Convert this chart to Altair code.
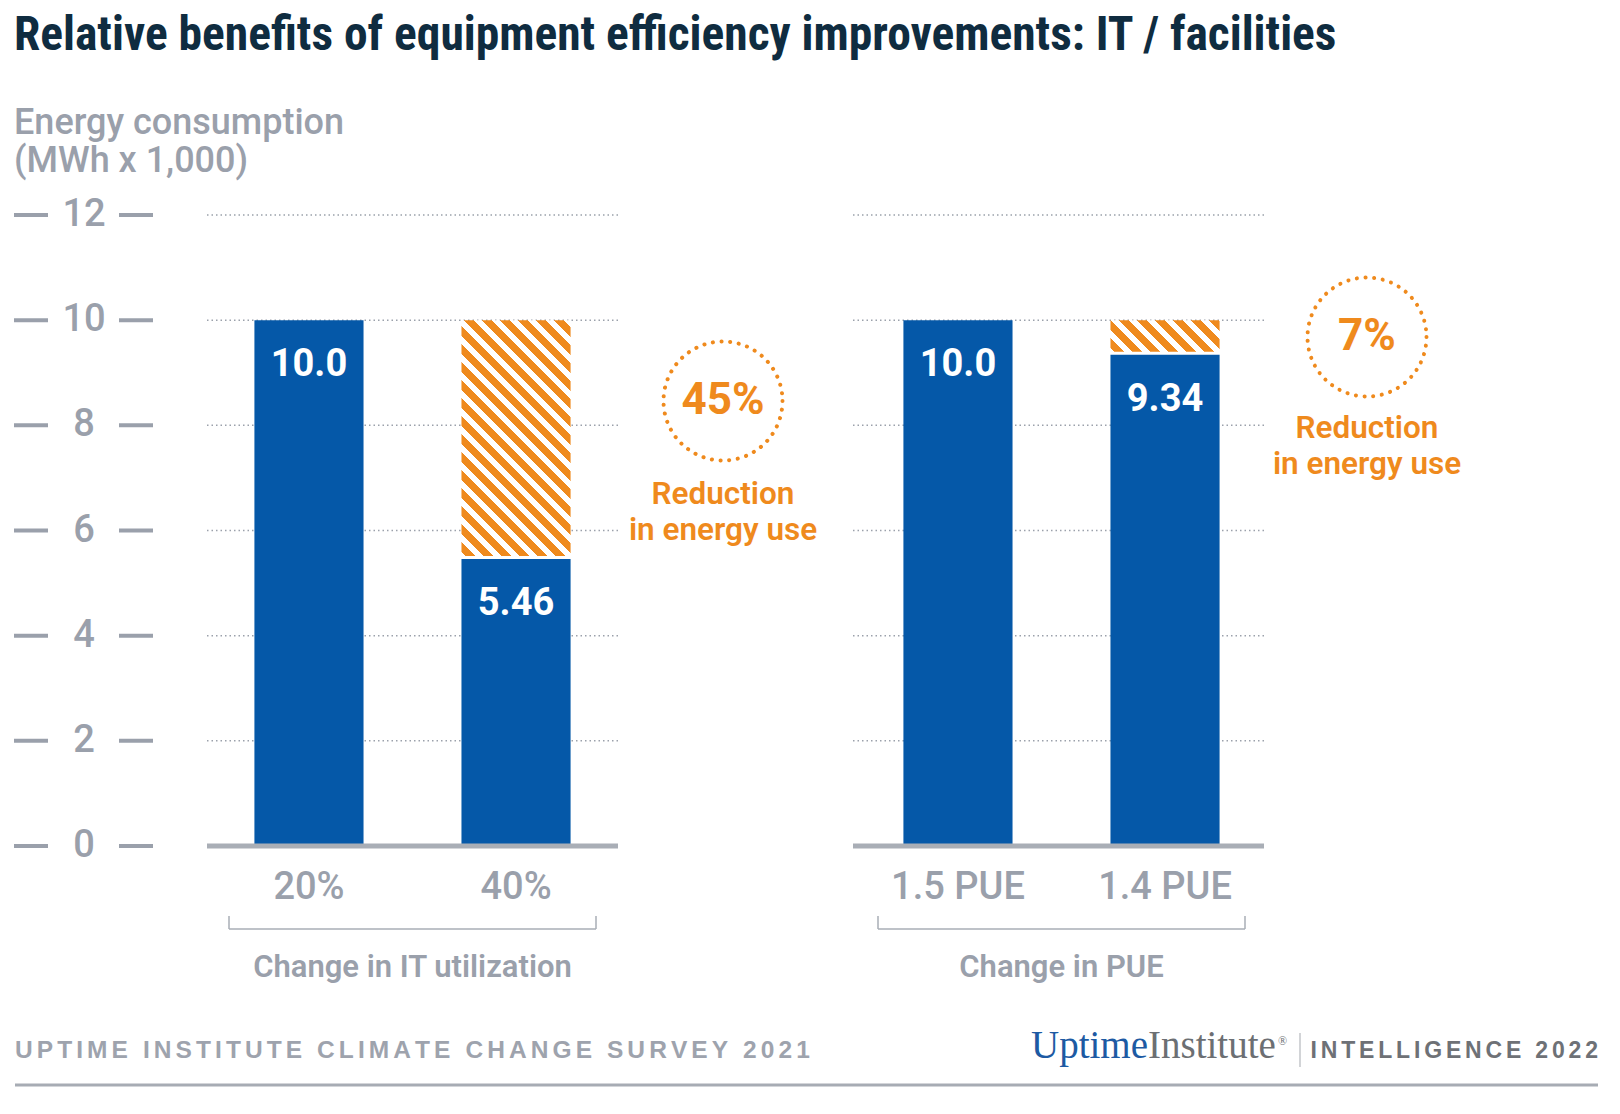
import altair as alt
import pandas as pd

# ---------------- data ----------------
TITLE = "Relative benefits of equipment efficiency improvements: IT / facilities"
Y_TITLE = ["Energy consumption", "(MWh x 1,000)"]
GROUPS = ["Change in IT utilization", "Change in PUE"]
CATEGORIES = [["20%", "40%"], ["1.5 PUE", "1.4 PUE"]]
BEFORE = [[10.0, 10.0], [10.0, 10.0]]
AFTER = [[10.0, 5.46], [10.0, 9.34]]
BAR_LABELS = [["10.0", "5.46"], ["10.0", "9.34"]]
REDUCTION = ["45%", "7%"]
REDUCTION_TEXT = ["Reduction", "in energy use"]
Y_TICKS = [0, 2, 4, 6, 8, 10, 12]
SOURCE = "UPTIME INSTITUTE CLIMATE CHANGE SURVEY 2021"
BRAND = ["Uptime", "Institute", "\u00ae"]
EDITION = "INTELLIGENCE 2022"

# ---------------- style ----------------
BLUE = "#0558a8"
ORANGE = "#ef8a1d"
GRAY = "#9aa0ab"
AXIS_GRAY = "#a9aeb6"
GRID = "#9ba1ab"
NAVY = "#0f2c40"
FONT = "Roboto, Liberation Sans, sans-serif"
NARROW = "Liberation Sans Narrow, Roboto Condensed, DejaVu Sans Condensed, sans-serif"
SANS = "Liberation Sans, Arial, sans-serif"
SERIF = "Liberation Serif, serif"

W, H = 411, 631
SPACING = 238
YMAX = 12
PX = H / YMAX
P_INNER, P_OUTER = 0.473, 0.229
STEP = W / (2 - P_INNER + 2 * P_OUTER)
BAR_W = STEP * (1 - P_INNER)
GAP = 3
CIRCLE_X = [516, 511]
CIRCLE_Y = [186, 122]
RED_Y = [[280, 316], [214, 250]]


def spaced(s, sep="\u2006"):
    return sep.join(list(s))


def stripes(w, h, period=18.0, frac=0.55, phase=4.0):
    span = w + h

    def col(p):
        m = (p - phase) % period
        return ORANGE if m < frac * period else "#ffffff"

    bounds = []
    k = -1
    while True:
        a = phase + k * period
        if a > span:
            break
        for b in (a, a + frac * period):
            if 0 < b < span:
                bounds.append(b)
        k += 1
    bounds.sort()
    stops = [{"offset": 0, "color": col(0)}]
    for b in bounds:
        t = round(b / span, 5)
        stops.append({"offset": t, "color": col(b - 1e-6)})
        stops.append({"offset": t, "color": col(b + 1e-6)})
    stops.append({"offset": 1, "color": col(span)})
    lam = span / (w * w + h * h)
    return alt.LinearGradient(
        gradient="linear", x1=0, y1=1, x2=lam * w, y2=1 - lam * h, stops=stops
    )


def text_layer(text, x, y, size, color, weight="normal", align="left",
               baseline="middle", font=FONT):
    return alt.Chart(pd.DataFrame({"t": [text]})).mark_text(
        align=align, baseline=baseline, fontSize=size, font=font,
        fontWeight=weight, color=color
    ).encode(x=alt.value(x), y=alt.value(y), text="t:N")


def rule_layer(x, x2, y, y2, color, width):
    return alt.Chart(pd.DataFrame({"r": [0]})).mark_rule(
        color=color, strokeWidth=width
    ).encode(x=alt.value(x), x2=alt.value(x2), y=alt.value(y), y2=alt.value(y2))


def panel(i):
    df = pd.DataFrame({
        "cat": CATEGORIES[i], "value": AFTER[i],
        "before": BEFORE[i], "label": BAR_LABELS[i],
    })
    x = alt.X(
        "cat:N", sort=CATEGORIES[i], title=None,
        scale=alt.Scale(paddingInner=P_INNER, paddingOuter=P_OUTER),
        axis=alt.Axis(
            labelFontSize=38, labelFont=FONT, labelFontWeight=500,
            labelColor=GRAY, labelPadding=41, labelBaseline="middle",
            labelAngle=0, ticks=False, tickSize=0, domain=False, grid=False,
        ),
    )
    yscale = alt.Scale(domain=[0, YMAX], nice=False)
    y = alt.Y("value:Q", scale=yscale, title=None, axis=None)
    layers = []

    # dotted gridlines
    gx0 = 0 if i == 0 else -3
    grid_df = pd.DataFrame({"tick": [t for t in Y_TICKS if t > 0]})
    layers.append(
        alt.Chart(grid_df).mark_rule(
            color=GRID, strokeWidth=1.5, strokeDash=[1.5, 3]
        ).encode(y=alt.Y("tick:Q", scale=yscale, axis=None),
                 x=alt.value(gx0), x2=alt.value(gx0 + W))
    )

    layers.append(alt.Chart(df).mark_bar(color=BLUE).encode(x=x, y=y))

    for _, r in df[df["value"] < df["before"]].iterrows():
        h = (r["before"] - r["value"]) * PX - GAP
        layers.append(
            alt.Chart(pd.DataFrame([r.to_dict()])).mark_bar(
                fill=stripes(BAR_W, h), y2Offset=-GAP
            ).encode(x=x, y=alt.Y("before:Q", scale=yscale, axis=None),
                     y2="value:Q")
        )

    # baseline
    layers.append(
        alt.Chart(pd.DataFrame({"tick": [0]})).mark_rule(
            color=AXIS_GRAY, strokeWidth=5
        ).encode(y=alt.Y("tick:Q", scale=yscale, axis=None),
                 x=alt.value(gx0), x2=alt.value(gx0 + W))
    )

    layers.append(
        alt.Chart(df).mark_text(
            dy=45, baseline="middle", color="white", fontSize=38,
            font=FONT, fontWeight="bold"
        ).encode(x=x, y=alt.Y("value:Q", scale=yscale, axis=None), text="label:N")
    )

    # bracket + group label
    bx1, bx2, by = W / 2 - 183.5, W / 2 + 183.5, 714
    layers.append(rule_layer(bx1, bx2, by, by, AXIS_GRAY, 1.5))
    layers.append(rule_layer(bx1, bx1, by - 13, by, AXIS_GRAY, 1.5))
    layers.append(rule_layer(bx2, bx2, by - 13, by, AXIS_GRAY, 1.5))
    layers.append(text_layer(GROUPS[i], W / 2, 753, 31, GRAY, weight=600,
                             align="center"))

    # reduction annotation
    cx, cy = CIRCLE_X[i], CIRCLE_Y[i]
    layers.append(
        alt.Chart(pd.DataFrame({"r": [0]})).mark_point(
            shape="circle", size=119 * 119, filled=False, color=ORANGE,
            strokeWidth=4, strokeDash=[0.1, 8.6], strokeCap="round", opacity=1
        ).encode(x=alt.value(cx), y=alt.value(cy))
    )
    layers.append(text_layer(REDUCTION[i], cx, cy, 44, ORANGE, weight="bold",
                             align="center"))
    for txt, yy in zip(REDUCTION_TEXT, RED_Y[i]):
        layers.append(text_layer(txt, cx, yy, 31.5, ORANGE, weight=600,
                                 align="center"))

    if i == 0:
        tick_df = pd.DataFrame({"tick": Y_TICKS})
        ty = alt.Y("tick:Q", scale=yscale, axis=None)
        for xa, xb in ((-193, -159), (-88, -54)):
            layers.append(
                alt.Chart(tick_df).mark_rule(color=GRAY, strokeWidth=4).encode(
                    y=ty, x=alt.value(xa), x2=alt.value(xb)
                )
            )
        layers.append(
            alt.Chart(tick_df).mark_text(
                align="center", baseline="middle", fontSize=38, font=FONT,
                fontWeight=500, color=GRAY
            ).encode(y=ty, x=alt.value(-123), text="tick:Q")
        )
        layers.append(text_layer(TITLE, -193, -179, 47.5, NAVY, weight="bold",
                                 font=NARROW))
        layers.append(text_layer(Y_TITLE[0], -193, -92, 36, GRAY, weight=500))
        layers.append(text_layer(Y_TITLE[1], -193, -54, 36, GRAY, weight=500))
        # footer
        layers.append(text_layer(spaced(SOURCE), -192, 843, 24.5,
                                 "#9ea3ad", weight="bold", baseline="alphabetic",
                                 font=SANS))
        layers.append(text_layer(BRAND[0], 941, 843, 39, "#1d5aa3",
                                 align="right", baseline="alphabetic",
                                 font=SERIF))
        layers.append(text_layer(BRAND[1], 941, 843, 39, "#6c6f73",
                                 baseline="alphabetic", font=SERIF))
        layers.append(text_layer(BRAND[2], 1071, 826, 12, "#6c6f73",
                                 font=SERIF))
        layers.append(rule_layer(1093, 1093, 818, 852, "#b4b7bc", 1.2))
        layers.append(text_layer(spaced(EDITION), 1391, 843, 23,
                                 "#6e7176", weight="bold", align="right",
                                 baseline="alphabetic", font=SANS))
        layers.append(rule_layer(-192, 1391, 870, 870, "#a7acb4", 3))

    return alt.layer(*layers).properties(width=W, height=H)


TOTAL_W = 2 * W + SPACING
chart = alt.hconcat(panel(0), panel(1), spacing=SPACING, bounds="flush").properties(
    autosize=alt.AutoSizeParams(type="none"),
    padding={"left": 199, "top": 207, "right": 336 + TOTAL_W, "bottom": 254},
    background="white",
).configure_view(stroke=None)

chart.save("out.html", embed_options={"renderer": "svg", "actions": False})
